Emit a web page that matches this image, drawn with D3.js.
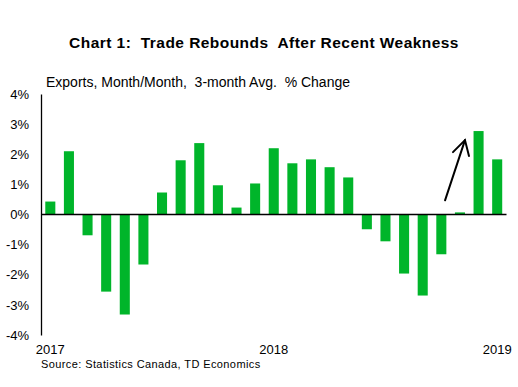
<!DOCTYPE html>
<html>
<head>
<meta charset="utf-8">
<script src="https://cdn.jsdelivr.net/npm/d3@7"></script>
<style>
  body { margin: 0; background: #fff; }
  text { font-family: "Liberation Sans", Arial, sans-serif; fill: #000; white-space: pre; }
</style>
</head>
<body>
<script>
//chart data, Jan 2017 to Jan 2019
var months = ["2017-01","2017-02","2017-03","2017-04","2017-05","2017-06","2017-07","2017-08","2017-09","2017-10","2017-11","2017-12",
              "2018-01","2018-02","2018-03","2018-04","2018-05","2018-06","2018-07","2018-08","2018-09","2018-10","2018-11","2018-12",
              "2019-01"];
var exportsChange = [0.43, 2.1, -0.69, -2.56, -3.32, -1.66, 0.73, 1.8, 2.37, 0.97, 0.23, 1.03,
                     2.2, 1.7, 1.83, 1.57, 1.23, -0.49, -0.89, -1.96, -2.69, -1.32, 0.07, 2.77,
                     1.83];
var yTicks = [-4, -3, -2, -1, 0, 1, 2, 3, 4];
var yearLabels = [{month: "2017-01", label: "2017"}, {month: "2018-01", label: "2018"}, {month: "2019-01", label: "2019"}];

window.onload = drawChart();

function drawChart(){

    var width = 518,
        height = 387;

    var svg = d3.select("body")
        .append("svg")
        .attr("width", width)
        .attr("height", height);

    //scales
    var x = d3.scaleBand()
        .domain(months)
        .range([41, 506.5])
        .paddingInner(0.46)
        .paddingOuter(0.23);

    var y = d3.scaleLinear()
        .domain([-4, 4])
        .range([335, 94]);

    //title
    svg.append("text")
        .attr("x", 264)
        .attr("y", 48)
        .attr("text-anchor", "middle")
        .style("font-size", "15.5px")
        .style("font-weight", "bold")
        .style("letter-spacing", "0.45px")
        .text("Chart 1:  Trade Rebounds  After Recent Weakness");

    //axis title
    svg.append("text")
        .attr("x", 46)
        .attr("y", 87)
        .style("font-size", "14px")
        .text("Exports, Month/Month,  3-month Avg.  % Change");

    //bars
    svg.selectAll(".bar")
        .data(exportsChange)
        .enter()
        .append("rect")
        .attr("class", "bar")
        .attr("x", function(d, i){ return x(months[i]); })
        .attr("width", x.bandwidth())
        .attr("y", function(d){ return y(Math.max(0, d)); })
        .attr("height", function(d){ return Math.abs(y(d) - y(0)); })
        .attr("fill", "#00b52a");

    //y axis
    var yAxis = d3.axisLeft(y)
        .tickValues(yTicks)
        .tickSize(0)
        .tickPadding(12)
        .tickFormat(function(d){ return d + "%"; });

    var yG = svg.append("g")
        .attr("transform", "translate(41,0)")
        .call(yAxis);
    yG.select(".domain").attr("stroke", "#000").attr("stroke-width", 1.3);
    yG.selectAll("text").style("font-size", "13px").attr("font-family", null);

    //zero line
    svg.append("line")
        .attr("x1", 41)
        .attr("x2", 506.5)
        .attr("y1", y(0))
        .attr("y2", y(0))
        .attr("stroke", "#000")
        .attr("stroke-width", 1.5);

    //year labels
    svg.selectAll(".year")
        .data(yearLabels)
        .enter()
        .append("text")
        .attr("class", "year")
        .attr("x", function(d){ return x(d.month) + x.bandwidth() / 2; })
        .attr("y", 354)
        .attr("text-anchor", "middle")
        .style("font-size", "13px")
        .text(function(d){ return d.label; });

    //source
    svg.append("text")
        .attr("x", 41)
        .attr("y", 368)
        .style("font-size", "11px")
        .style("letter-spacing", "0.4px")
        .text("Source: Statistics Canada, TD Economics");

    //arrow annotation
    var step = x.step();
    var ax0 = x(months[21]) + x.bandwidth() / 2 + step * 0.2,
        ay0 = y(0.47),
        ax1 = x(months[22]) + x.bandwidth() / 2 + step * 0.27,
        ay1 = y(2.47);
    var arrow = svg.append("g")
        .attr("stroke", "#000")
        .attr("stroke-width", 2)
        .attr("fill", "none")
        .attr("stroke-linecap", "round");
    arrow.append("line")
        .attr("x1", ax0).attr("y1", ay0)
        .attr("x2", ax1).attr("y2", ay1);
    arrow.append("polyline")
        .attr("points", [[ax1 - 12, ay1 + 12], [ax1, ay1], [ax1 + 4, ay1 + 16]].join(" "));
};
</script>
</body>
</html>
